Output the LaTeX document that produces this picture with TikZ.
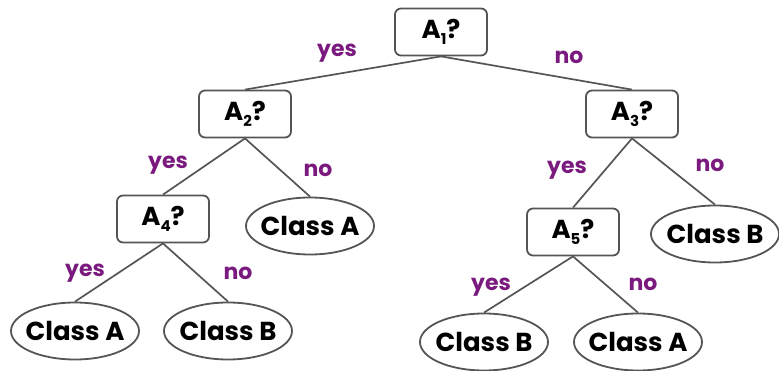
\documentclass[tikz,border=0pt]{standalone}
\usepackage{fontspec}
\setmainfont{Poppins}
\usetikzlibrary{shapes.geometric}
\definecolor{edgegray}{HTML}{555555}
\definecolor{labelpurple}{HTML}{7A1A7E}
\tikzset{
  x=1pt, y=-1pt,
  test/.style={draw=edgegray, line width=1.8pt, rounded corners=6pt,
    minimum width=92pt, minimum height=47pt, inner sep=0pt,
    font=\fontsize{26}{26}\selectfont\bfseries},
  leaf/.style={draw=edgegray, line width=1.8pt, ellipse,
    minimum width=128pt, minimum height=57pt, inner ysep=0pt, inner xsep=-8pt,
    font=\fontsize{26}{26}\selectfont\bfseries},
  branch/.style={draw=edgegray, line width=1.7pt},
  answer/.style={text=labelpurple, font=\fontsize{22}{22}\selectfont\bfseries},
}
\newcommand{\Attr}[1]{A\raisebox{-0.4ex}{\fontsize{15}{15}\selectfont #1}?}
\begin{document}
\begin{tikzpicture}
\useasboundingbox (0,0) rectangle (779,371);
% decision nodes
\node[test] (a1) at (441,32) {\Attr{1}};
\node[test] (a2) at (245,114) {\Attr{2}};
\node[test] (a3) at (632,114) {\Attr{3}};
\node[test] (a4) at (163,219) {\Attr{4}};
\node[test] (a5) at (573,232) {\Attr{5}};
% leaves
\node[leaf] (l2) at (310,226) {Class A};
\node[leaf] (l3) at (715,234) {Class B};
\node[leaf] (l4a) at (75,331) {Class A};
\node[leaf] (l4b) at (228,331) {Class B};
\node[leaf] (l5a) at (484,342) {Class B};
\node[leaf] (l5b) at (638,342) {Class A};
% branches
\draw[branch] (a1.south) -- (a2.north);
\draw[branch] (a1.south) -- (a3.north);
\draw[branch] (a2.south) -- (a4.north);
\draw[branch] (a2.south) -- (l2.north);
\draw[branch] (a3.south) -- (a5.north);
\draw[branch] (a3.south) -- (l3.north);
\draw[branch] (a4.south) -- (l4a.north);
\draw[branch] (a4.south) -- (l4b.north);
\draw[branch] (a5.south) -- (l5a.north);
\draw[branch] (a5.south) -- (l5b.north);
% branch labels
\node[answer] (y1) at (337,53) {yes};
\node[answer] (n1) at (569,57) {no};
\node[answer] (y2) at (168,165) {yes};
\node[answer] (n2) at (318,170) {no};
\node[answer] (y3) at (567,170) {yes};
\node[answer] (n3) at (710,165) {no};
\node[answer] (y4) at (85,273) {yes};
\node[answer] (n4) at (238,273) {no};
\node[answer] (y5) at (491,287) {yes};
\node[answer] (n5) at (643,284) {no};
\end{tikzpicture}
\end{document}
